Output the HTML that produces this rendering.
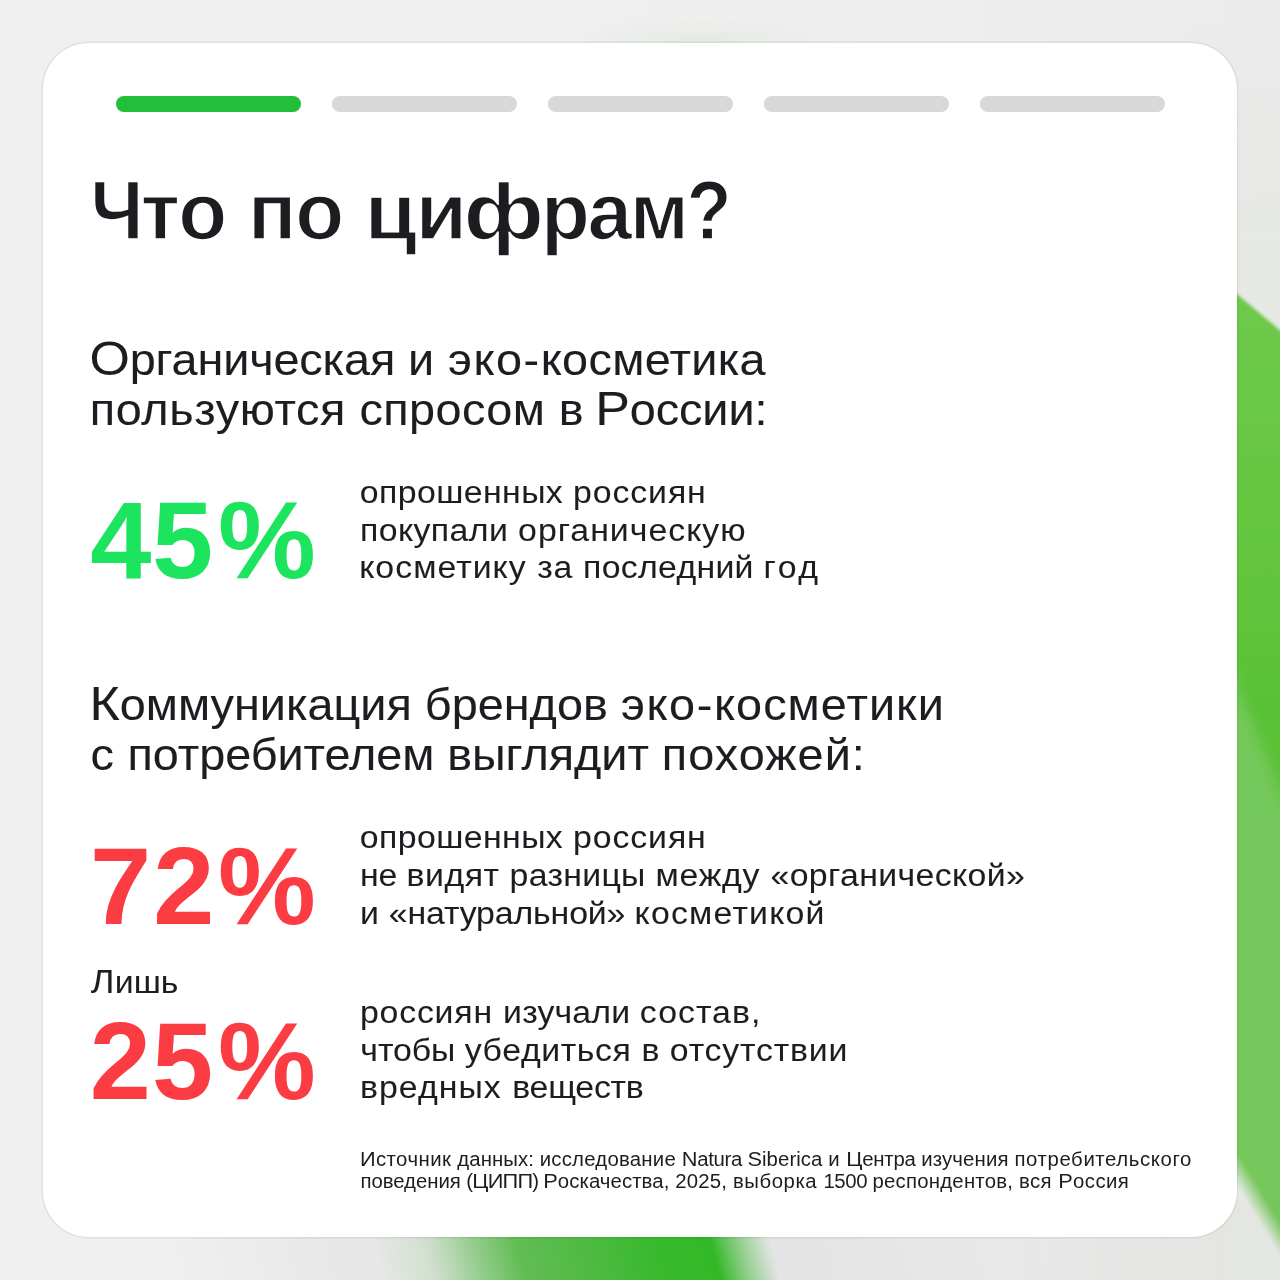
<!DOCTYPE html>
<html lang="ru">
<head>
<meta charset="utf-8">
<title>Что по цифрам?</title>
<style>
  html, body { margin: 0; padding: 0; }
  body {
    width: 1280px; height: 1280px; overflow: hidden; position: relative;
    background: #eeeeee;
    font-family: "Liberation Sans", sans-serif;
    color: #1d1d21;
  }
  .bg { position: absolute; left: 0; top: 0; width: 1280px; height: 1280px; }
  .card {
    position: absolute; left: 43px; top: 43.2px; width: 1194px; height: 1193.6px;
    background: #ffffff; border-radius: 46px;
    box-shadow: 0 0 0 1.4px rgba(0,0,0,0.055), 0 0 3px rgba(0,0,0,0.03);
  }
  .bar { position: absolute; top: 95.9px; height: 16.6px; width: 185px; border-radius: 9px; background: #d8d8d8; }
  .bar.on { background: #21bf3a; }
  .t { position: absolute; left: 0; top: 0; white-space: nowrap; line-height: 1; margin: 0; transform-origin: 0 0; will-change: transform; }
  .c { line-height: 0; }
  .title { font-weight: bold; -webkit-text-stroke: 1.6px #ffffff; }
  .title .c { font-size: 1.046em; }
  .title .wd { display: inline-block; line-height: 0; transform: scaleX(1.15); transform-origin: 0 100%; }
  .title .w2 { transform: scaleX(1.065); }
  .title .w3 { transform: scaleX(1.05); }
  .title .nq { display: inline-block; transform: scaleX(0.88); transform-origin: 0 100%; }
  .title .cn { display: inline-block; transform: scaleX(0.9); transform-origin: 0 100%; }
  .h2 { -webkit-text-stroke: 0.08px #1d1d21; }
  .h2 .c { font-size: 1.11em; }
  .p { -webkit-text-stroke: 0.06px #1d1d21; }
  .p .c { font-size: 1.07em; }
  .num { font-weight: bold; }
  .green { color: #1de45e; }
  .red { color: #fc3c43; }
  .fn { }
  .fn .c { font-size: 1.07em; }
</style>
</head>
<body>
<svg class="bg" viewBox="0 0 1280 1280">
  <defs>
    <filter id="b1" x="-30%" y="-10%" width="160%" height="120%"><feGaussianBlur stdDeviation="1.6"/></filter>
    <filter id="b3" x="-60%" y="-30%" width="220%" height="160%"><feGaussianBlur stdDeviation="7"/></filter>
    <linearGradient id="bgg" x1="0" y1="0" x2="1" y2="0">
      <stop offset="0" stop-color="#f0f0f0"/>
      <stop offset="0.5" stop-color="#efefef"/>
      <stop offset="0.8" stop-color="#ededed"/>
      <stop offset="1" stop-color="#ebebeb"/>
    </linearGradient>
    <linearGradient id="rov" gradientUnits="userSpaceOnUse" x1="0" y1="20" x2="0" y2="240">
      <stop offset="0" stop-color="#c3d7af" stop-opacity="0"/>
      <stop offset="1" stop-color="#c3d7af" stop-opacity="0.1"/>
    </linearGradient>
    <linearGradient id="rovx" gradientUnits="userSpaceOnUse" x1="1000" y1="0" x2="1240" y2="0">
      <stop offset="0" stop-color="#fff" stop-opacity="0"/>
      <stop offset="1" stop-color="#fff" stop-opacity="1"/>
    </linearGradient>
    <mask id="rm" maskUnits="userSpaceOnUse" x="900" y="0" width="400" height="1280"><rect x="900" y="0" width="400" height="1280" fill="url(#rovx)"/></mask>
    <linearGradient id="mg" gradientUnits="userSpaceOnUse" x1="1266.7" y1="1199.8" x2="1251.3" y2="1209.2">
      <stop offset="0" stop-color="#fff"/>
      <stop offset="0.5" stop-color="#808080"/>
      <stop offset="1" stop-color="#000"/>
    </linearGradient>
    <mask id="m1" maskUnits="userSpaceOnUse" x="1150" y="200" width="200" height="1150"><rect x="1150" y="200" width="200" height="1150" fill="url(#mg)"/></mask>
    <linearGradient id="g1" gradientUnits="userSpaceOnUse" x1="0" y1="290" x2="0" y2="1200">
      <stop offset="0" stop-color="#6fc94c"/>
      <stop offset="0.25" stop-color="#65c640"/>
      <stop offset="0.45" stop-color="#59c235"/>
      <stop offset="1" stop-color="#5ec33b"/>
    </linearGradient>
    <radialGradient id="tg" gradientUnits="userSpaceOnUse" cx="700" cy="44" r="130" gradientTransform="translate(0,44) scale(1,0.22) translate(0,-44)">
      <stop offset="0" stop-color="#a5d898" stop-opacity="0.16"/>
      <stop offset="0.55" stop-color="#a5d898" stop-opacity="0.07"/>
      <stop offset="1" stop-color="#9fd88f" stop-opacity="0"/>
    </radialGradient>
    <linearGradient id="g2" gradientUnits="userSpaceOnUse" x1="370" y1="0" x2="770" y2="0">
      <stop offset="0" stop-color="#7cc471" stop-opacity="0"/>
      <stop offset="0.13" stop-color="#78c36c" stop-opacity="0.18"/>
      <stop offset="0.26" stop-color="#6cc060" stop-opacity="0.7"/>
      <stop offset="0.36" stop-color="#62bd54" stop-opacity="1"/>
      <stop offset="0.55" stop-color="#4cba40" stop-opacity="1"/>
      <stop offset="0.72" stop-color="#37b92c" stop-opacity="1"/>
      <stop offset="0.85" stop-color="#33b927" stop-opacity="1"/>
      <stop offset="0.915" stop-color="#3fba34" stop-opacity="0.55"/>
      <stop offset="1" stop-color="#5cbc52" stop-opacity="0"/>
    </linearGradient>
    <linearGradient id="g2s" gradientUnits="userSpaceOnUse" x1="160" y1="0" x2="1280" y2="0">
      <stop offset="0" stop-color="#000" stop-opacity="0"/>
      <stop offset="0.16" stop-color="#000" stop-opacity="0.035"/>
      <stop offset="0.58" stop-color="#000" stop-opacity="0.042"/>
      <stop offset="0.75" stop-color="#000" stop-opacity="0.02"/>
      <stop offset="1" stop-color="#000" stop-opacity="0.012"/>
    </linearGradient>
  </defs>
  <rect width="1280" height="1280" fill="url(#bgg)"/>
  <rect x="900" y="0" width="380" height="1280" fill="url(#rov)" mask="url(#rm)"/>
  <!-- right green ribbon -->
  <g mask="url(#m1)">
    <polygon points="1200,263 1300,347 1300,1320 1200,1320" fill="url(#g1)" filter="url(#b1)"/>
    <polygon points="1215,630 1300,842 1300,1320 1215,1320" fill="#80cb6b" opacity="0.72" filter="url(#b3)"/>
  </g>
  <rect x="540" y="0" width="320" height="80" fill="url(#tg)"/>
  <!-- bottom glow -->
  <g transform="translate(0,1238) skewX(15) translate(0,-1238)">
    <rect x="100" y="1200" width="1200" height="100" fill="url(#g2s)"/>
    <rect x="360" y="1200" width="420" height="100" fill="url(#g2)"/>
  </g>
</svg>
<div class="card"></div>

<div class="bar on" style="left:115.6px"></div>
<div class="bar" style="left:331.7px"></div>
<div class="bar" style="left:547.7px"></div>
<div class="bar" style="left:763.8px"></div>
<div class="bar" style="left:979.8px"></div>

<div class="t title" id="title" style="font-size:80px; transform:translate(90.49px,171.90px) scaleX(1.0);"><span class="w" style="letter-spacing:-8.50px"><span class="c cn">Ч</span></span><span class="w" style="letter-spacing:-0.69px">то </span><span class="w" style="letter-spacing:-1.10px">по </span><span class="w" style="letter-spacing:2.51px"><span class="wd w2">ц</span></span><span class="w" style="letter-spacing:-1.51px"><span class="wd w3">и</span></span><span class="w" style="letter-spacing:7.61px"><span class="wd">ф</span></span><span class="w" style="letter-spacing:-2.33px">рам</span><span class="w" style="letter-spacing:0.00px"><span class="c nq">?</span></span></div>
<div class="t h2" id="h2a1" style="font-size:44px; transform:translate(89.39px,337.67px) scaleX(1.063);"><span class="w" style="letter-spacing:-0.10px"><span class="c">О</span>рганическая </span><span class="w" style="letter-spacing:0.43px">и </span><span class="w" style="letter-spacing:1.45px">эко-</span><span class="w" style="letter-spacing:0.34px">косметика</span></div>
<div class="t h2" id="h2a2" style="font-size:44px; transform:translate(89.69px,387.67px) scaleX(1.063);"><span class="w" style="letter-spacing:0.59px">пользуются </span><span class="w" style="letter-spacing:0.40px">спросом </span><span class="w" style="letter-spacing:-0.63px">в </span><span class="w" style="letter-spacing:-0.08px"><span class="c">Р</span>оссии:</span></div>
<div class="t num green" id="n45" style="font-size:110px; transform:translate(90.27px,485.10px) scaleX(1.0);"><span class="w" style="letter-spacing:0.63px">45</span></div>
<div class="t num green" id="n45p" style="font-size:110px; transform:translate(218.11px,485.10px) scaleX(1.0);"><span class="w" style="letter-spacing:0.00px">%</span></div>
<div class="t p" id="p1a" style="font-size:31.5px; transform:translate(359.86px,476.69px) scaleX(1.073);"><span class="w" style="letter-spacing:0.39px">опрошенных </span><span class="w" style="letter-spacing:0.86px">россиян</span></div>
<div class="t p" id="p1b" style="font-size:31.5px; transform:translate(359.92px,515.29px) scaleX(1.073);"><span class="w" style="letter-spacing:0.40px">покупали </span><span class="w" style="letter-spacing:0.96px">органическую</span></div>
<div class="t p" id="p1c" style="font-size:31.5px; transform:translate(359.15px,552.09px) scaleX(1.073);"><span class="w" style="letter-spacing:0.97px">косметику </span><span class="w" style="letter-spacing:0.69px">за </span><span class="w" style="letter-spacing:0.29px">последний </span><span class="w" style="letter-spacing:2.36px">год</span></div>
<div class="t h2" id="h2b1" style="font-size:44px; transform:translate(89.47px,682.52px) scaleX(1.063);"><span class="w" style="letter-spacing:0.01px"><span class="c">К</span>оммуникация </span><span class="w" style="letter-spacing:0.04px">брендов </span><span class="w" style="letter-spacing:1.55px">эко-</span><span class="w" style="letter-spacing:1.02px">косметики</span></div>
<div class="t h2" id="h2b2" style="font-size:44px; transform:translate(90.51px,733.47px) scaleX(1.063);"><span class="w" style="letter-spacing:0.31px">с </span><span class="w" style="letter-spacing:-0.02px">потребителем </span><span class="w" style="letter-spacing:-0.05px">выглядит </span><span class="w" style="letter-spacing:1.01px">похожей:</span></div>
<div class="t num red" id="n72" style="font-size:110px; transform:translate(90.11px,831.00px) scaleX(1.0);"><span class="w" style="letter-spacing:2.01px">72</span></div>
<div class="t num red" id="n72p" style="font-size:110px; transform:translate(218.08px,831.00px) scaleX(1.0);"><span class="w" style="letter-spacing:0.00px">%</span></div>
<div class="t p" id="p2a" style="font-size:31.5px; transform:translate(359.86px,822.29px) scaleX(1.073);"><span class="w" style="letter-spacing:0.39px">опрошенных </span><span class="w" style="letter-spacing:0.86px">россиян</span></div>
<div class="t p" id="p2b" style="font-size:31.5px; transform:translate(359.92px,859.69px) scaleX(1.073);"><span class="w" style="letter-spacing:-0.08px">не </span><span class="w" style="letter-spacing:0.52px">видят </span><span class="w" style="letter-spacing:0.29px">разницы </span><span class="w" style="letter-spacing:0.74px">между </span><span class="w" style="letter-spacing:0.36px">«органической»</span></div>
<div class="t p" id="p2c" style="font-size:31.5px; transform:translate(359.93px,898.49px) scaleX(1.073);"><span class="w" style="letter-spacing:0.24px">и </span><span class="w" style="letter-spacing:-0.10px">«натуральной» </span><span class="w" style="letter-spacing:1.13px">косметикой</span></div>
<div class="t p" id="lish" style="font-size:31.5px; transform:translate(90.81px,966.89px) scaleX(1.073);"><span class="w" style="letter-spacing:0.10px"><span class="c">Л</span>ишь</span></div>
<div class="t num red" id="n25" style="font-size:110px; transform:translate(89.72px,1005.50px) scaleX(1.0);"><span class="w" style="letter-spacing:1.09px">25</span></div>
<div class="t num red" id="n25p" style="font-size:110px; transform:translate(218.08px,1005.50px) scaleX(1.0);"><span class="w" style="letter-spacing:0.00px">%</span></div>
<div class="t p" id="p3a" style="font-size:31.5px; transform:translate(360.01px,997.29px) scaleX(1.073);"><span class="w" style="letter-spacing:0.75px">россиян </span><span class="w" style="letter-spacing:0.17px">изучали </span><span class="w" style="letter-spacing:0.97px">состав,</span></div>
<div class="t p" id="p3b" style="font-size:31.5px; transform:translate(360.30px,1035.29px) scaleX(1.073);"><span class="w" style="letter-spacing:-0.02px">чтобы </span><span class="w" style="letter-spacing:0.57px">убедиться </span><span class="w" style="letter-spacing:0.47px">в </span><span class="w" style="letter-spacing:0.76px">отсутствии</span></div>
<div class="t p" id="p3c" style="font-size:31.5px; transform:translate(359.92px,1072.29px) scaleX(1.073);"><span class="w" style="letter-spacing:1.00px">вредных </span><span class="w" style="letter-spacing:-0.23px">веществ</span></div>
<div class="t fn" id="fn1" style="font-size:19.5px; transform:translate(359.91px,1149.68px) scaleX(1.044);"><span class="w" style="letter-spacing:0.41px"><span class="c">И</span>сточник </span><span class="w" style="letter-spacing:0.06px">данных: </span><span class="w" style="letter-spacing:0.22px">исследование </span><span class="w" style="letter-spacing:-0.31px"><span class="c">N</span>atura </span><span class="w" style="letter-spacing:0.07px"><span class="c">S</span>iberica </span><span class="w" style="letter-spacing:0.47px">и </span><span class="w" style="letter-spacing:-0.19px"><span class="c">Ц</span>ентра </span><span class="w" style="letter-spacing:0.15px">изучения </span><span class="w" style="letter-spacing:0.58px">потребительского</span></div>
<div class="t fn" id="fn2" style="font-size:19.5px; transform:translate(360.49px,1172.48px) scaleX(1.044);"><span class="w" style="letter-spacing:-0.05px">поведения </span><span class="w" style="letter-spacing:-0.74px">(<span class="c">ЦИПП</span>) </span><span class="w" style="letter-spacing:0.08px"><span class="c">Р</span>оскачества, </span><span class="w" style="letter-spacing:0.19px">2025, </span><span class="w" style="letter-spacing:0.52px">выборка </span><span class="w" style="letter-spacing:-0.37px">1500 </span><span class="w" style="letter-spacing:0.22px">респондентов, </span><span class="w" style="letter-spacing:0.39px">вся </span><span class="w" style="letter-spacing:0.39px"><span class="c">Р</span>оссия</span></div>
</body>
</html>
